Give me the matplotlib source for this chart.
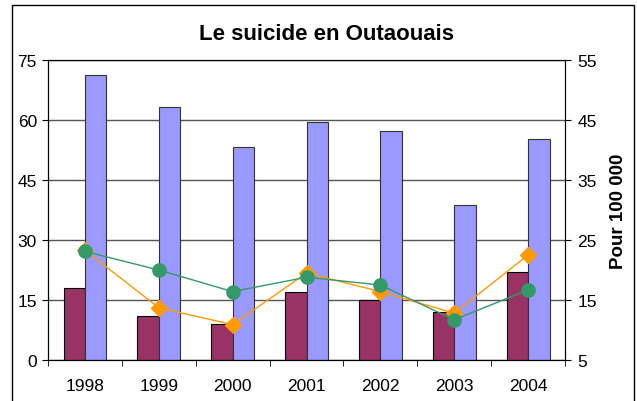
import matplotlib.pyplot as plt
import numpy as np
from matplotlib.patches import Rectangle

plt.rcParams['font.family'] = ['Liberation Sans', 'DejaVu Sans']

annees = ['1998', '1999', '2000', '2001', '2002', '2003', '2004']
nombre_a = [18, 11, 9, 17, 15, 12, 22]
nombre_b = [71.2, 63.2, 53.2, 59.5, 57.3, 38.8, 55.2]
taux_orange = [23.3, 13.7, 10.9, 19.5, 16.4, 12.8, 22.5]
taux_vert = [23.1, 20.0, 16.4, 18.8, 17.5, 11.7, 16.7]

fig = plt.figure(figsize=(6.37, 4.02), dpi=100)
ax = fig.add_axes([0.0754, 0.102, 0.8116, 0.746])

# cadre du graphique
fig.patches.append(Rectangle((12 / 637, -0.05), (634 - 12) / 637, (402 - 6) / 402 + 0.05,
                             transform=fig.transFigure, fill=False, edgecolor='black', lw=1))

x = np.arange(len(annees))
w = 0.29
ax.bar(x - w / 2, nombre_a, w, color='#993366', edgecolor='black', lw=0.8, zorder=2)
ax.bar(x + w / 2, nombre_b, w, color='#9999FF', edgecolor='#333333', lw=0.8, zorder=2)

ax.set_xlim(-0.5, len(annees) - 0.5)
ax.set_ylim(0, 75)
ax.set_yticks([0, 15, 30, 45, 60, 75])
ax.yaxis.grid(True, color='#555555', lw=1)
ax.set_axisbelow(True)
ax.set_xticks(x)
ax.set_xticklabels(annees)
ax.set_xticks(np.arange(len(annees) + 1) - 0.5, minor=True)
ax.tick_params(axis='x', which='major', length=0, pad=13, labelsize=12.5)
ax.tick_params(axis='x', which='minor', length=4.5, direction='out')
ax.tick_params(axis='y', length=4, direction='out', labelsize=12.5, pad=4)
for s in ['top', 'left', 'bottom']:
    ax.spines[s].set_color('black')

ax2 = ax.twinx()
ax2.set_ylim(5, 55)
ax2.set_yticks([5, 15, 25, 35, 45, 55])
ax2.tick_params(axis='y', length=4, direction='out', labelsize=12.5, pad=5)
ax2.plot(x, taux_orange, color='#FF9900', lw=1, marker='D', markersize=8.5, zorder=3)
ax2.plot(x, taux_vert, color='#339966', lw=1, marker='o', markersize=9.5, zorder=4)
ax2.set_ylabel('Pour 100 000', fontsize=13.5, fontweight='bold', labelpad=9)
ax2.spines['right'].set_color('black')

fig.text(0.512, 0.913, 'Le suicide en Outaouais', ha='center', va='center',
         fontsize=16, fontweight='bold')

fig.savefig('out.png', dpi=100)
